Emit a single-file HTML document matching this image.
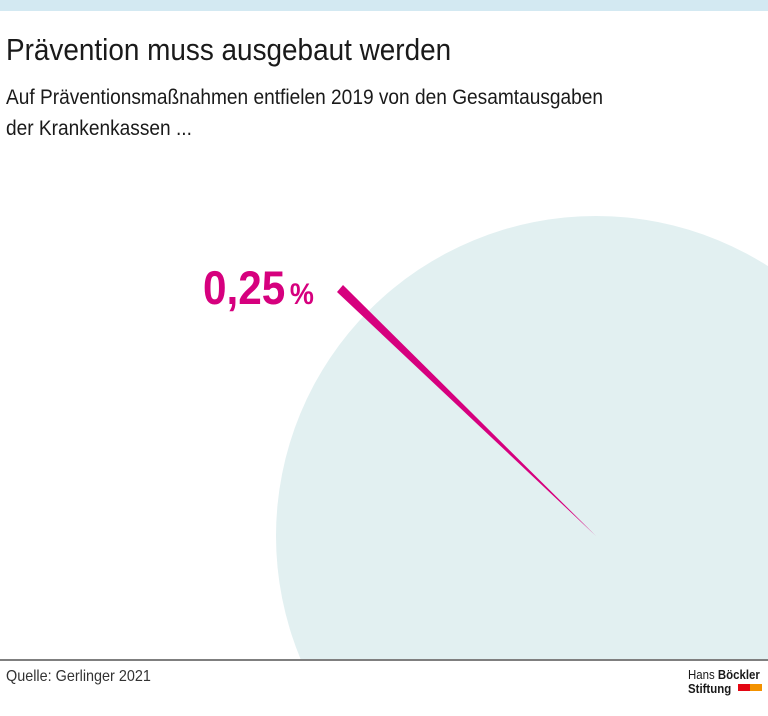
<!DOCTYPE html>
<html><head><meta charset="utf-8"><style>
html,body{margin:0;width:768px;height:716px;overflow:hidden}
body{background:#fff;position:relative;font-family:"Liberation Sans Narrow","Liberation Sans",sans-serif;color:#1a1a1a}
.t{position:absolute;left:6px;white-space:nowrap;transform-origin:0 0}
svg{display:block}
</style></head><body>
<div style="position:absolute;left:0;top:0;width:768px;height:11px;background:#d3e9f2"></div>
<svg width="768" height="716" style="position:absolute;left:0;top:0">
<defs><clipPath id="c"><rect x="0" y="0" width="768" height="659"/></clipPath></defs>
<circle cx="596" cy="536" r="320" fill="#e2f0f1" clip-path="url(#c)"/>
<polygon points="596,536 337,292 343,285" fill="#d6007e"/>
<line x1="0" y1="660" x2="768" y2="660" stroke="#555" stroke-width="1.5"/>
<rect x="738" y="684" width="12" height="7" fill="#e30613"/>
<rect x="750" y="684" width="12" height="7" fill="#f39200"/>
</svg>
<div class="t" style="top:32px;font-size:31px;transform:scaleX(0.9)">Prävention muss ausgebaut werden</div>
<div class="t" style="top:82px;font-size:21px;line-height:31px;transform:scaleX(0.91)">Auf Präventionsmaßnahmen entfielen 2019 von den Gesamtausgaben<br>der Krankenkassen ...</div>
<div class="t" style="left:203px;top:260px;font-size:47px;font-weight:bold;color:#d6007e;transform:scaleX(0.9)">0,25<span style="font-size:30px;margin-left:5px">%</span></div>
<div class="t" style="top:668px;font-size:16px;color:#333;transform:scaleX(0.9)">Quelle: Gerlinger 2021</div>
<div class="t" style="left:688px;top:668px;font-size:13px;line-height:14px;font-family:'Liberation Sans',sans-serif;transform:scaleX(0.88)">Hans <b>Böckler</b><br><b>Stiftung</b></div>
</body></html>
